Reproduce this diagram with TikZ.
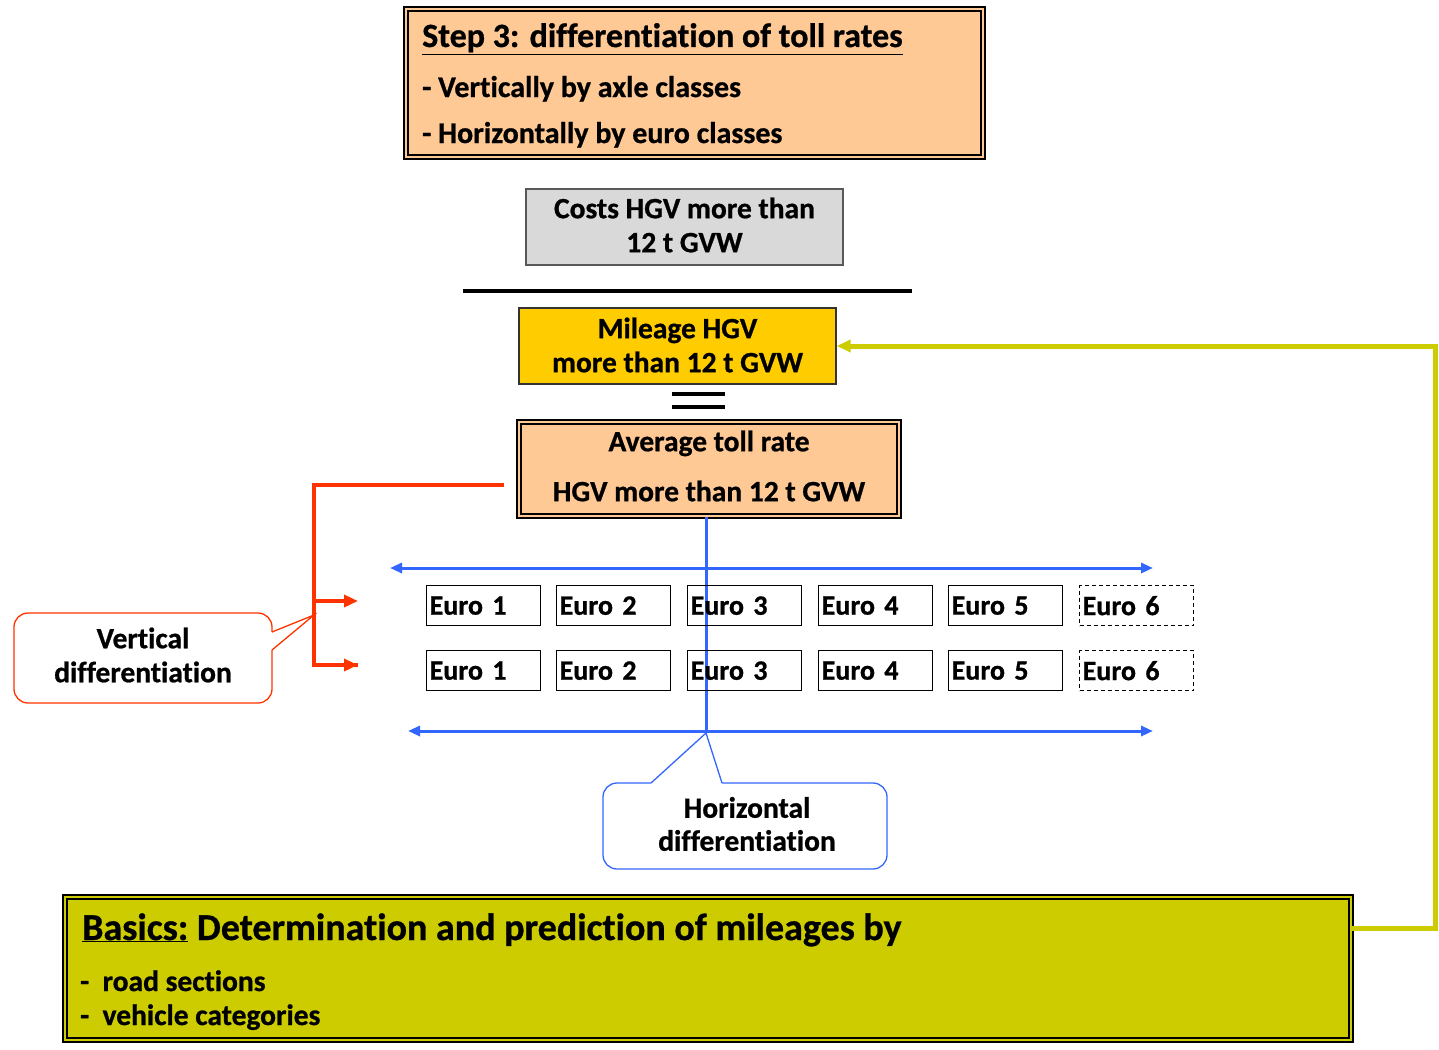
\documentclass[tikz,border=0pt]{standalone}
\usepackage{fontspec}
\setmainfont{Carlito}[BoldFont={Carlito Bold}, BoldFeatures={FakeBold=0.8}, Ligatures={NoCommon}]
\usetikzlibrary{arrows.meta,calc}

\definecolor{peach}{HTML}{FFC996}
\definecolor{gold}{HTML}{FFCC00}
\definecolor{olive}{HTML}{CCCC00}
\definecolor{lgray}{HTML}{D9D9D9}
\definecolor{redline}{HTML}{FF3300}
\definecolor{blueline}{HTML}{3366FF}

\newcommand{\fs}[2]{\fontsize{#1}{#2}\selectfont\bfseries}

\begin{document}
\begin{tikzpicture}[x=1pt,y=-1pt,
  dblbox/.style={draw=black, double=#1, line width=1.6pt, double distance=2.2pt, fill=#1, inner sep=0pt},
  plainbox/.style={draw=#1, line width=1.3pt, inner sep=0pt},
  eurobox/.style={draw=black, line width=1.3pt, minimum width=114pt, minimum height=40pt,
    text width=108pt, inner xsep=3pt, inner ysep=0pt, align=left, anchor=north west,
    font=\fs{28}{30}},
  eurodash/.style={eurobox, dashed, dash pattern=on 4pt off 3pt},
  txt/.style={inner sep=0pt, anchor=base west},
  boxtext/.style={inner sep=0pt, align=center, font=\fs{29.5}{#1}},
  rl/.style={draw=redline, line width=3.4pt},
  bl/.style={draw=blueline, line width=3pt},
  yl/.style={draw=olive, line width=5pt},
  tip/.style={-{Triangle[length=14pt,width=12pt]}},
  dtip/.style={{Triangle[length=12pt,width=10pt]}-{Triangle[length=12pt,width=10pt]}},
]
\useasboundingbox (0,0) rectangle (1439,1049);

% Step 3 header box
\node[dblbox=peach, minimum width=577pt, minimum height=148pt] (step3) at (694.5,83) {};
\node[txt] (s3title) at (422,47) {\fs{34}{38}\underline{Step 3: differentiation of toll rates}};
\node[txt] (s3a) at (422,97) {\fs{30}{34}- Vertically by axle classes};
\node[txt] (s3b) at (422,143) {\fs{30}{34}- Horizontally by euro classes};

% Costs box
\node[plainbox=black!65, fill=lgray, minimum width=317pt, minimum height=76pt] (costs) at (684.5,227) {};
\node[boxtext=34] (costsT) at (684.5,225) {Costs HGV more than\\12 t GVW};

% Fraction bar
\coordinate (barL) at (463,291);
\coordinate (barR) at (912,291);
\draw[line width=4pt] (barL) -- (barR);

% Mileage box
\node[plainbox=black!80, fill=gold, minimum width=317pt, minimum height=76pt] (mileage) at (677.5,346) {};
\node[boxtext=34] (mileageT) at (677.5,345) {Mileage HGV\\more than 12 t GVW};

% Equals sign
\coordinate (eq1L) at (672,394); \coordinate (eq1R) at (725,394);
\coordinate (eq2L) at (672,407); \coordinate (eq2R) at (725,407);
\draw[line width=3.5pt] (eq1L) -- (eq1R);
\draw[line width=3.5pt] (eq2L) -- (eq2R);

% Average toll rate box
\node[dblbox=peach, minimum width=380pt, minimum height=94pt] (avg) at (709,469) {};
\node[boxtext=50] (avgT) at (709,466) {Average toll rate\\HGV more than 12 t GVW};

% Blue horizontal axes and stem
\coordinate (ht1L) at (390,568);  \coordinate (ht1R) at (1153,568);
\coordinate (ht2L) at (408,731);  \coordinate (ht2R) at (1153,731);
\coordinate (stemB) at (706,733);
\draw[bl] (avg.south -| stemB) -- (stemB);
\draw[bl, dtip] (ht1L) -- (ht1R);
\draw[bl, dtip] (ht2L) -- (ht2R);

% Euro class rows
\foreach \r/\y in {1/585, 2/650}{
  \foreach \i/\x in {1/426, 2/556, 3/687, 4/818, 5/948}{
    \node[eurobox] (e\r\i) at (\x,\y) {Euro \i};
  }
  \node[eurodash] (e\r6) at (1079,\y) {Euro 6};
}

% Red vertical bracket
\coordinate (rs) at (504,485);
\coordinate (rc) at (314,485);
\coordinate (ra1) at (358,601);
\coordinate (ra2) at (358,665);
\draw[rl] (rs) -- (rc) |- (ra2);
\draw[rl, tip] (rc |- ra1) -- (ra1);
\draw[rl, tip] (rc |- ra2) -- (ra2);

% Vertical differentiation callout
\node[boxtext=34] (vcall) at (143,655) {Vertical\\differentiation};
\coordinate (vtip) at (314,615);
\draw[draw=redline, line width=1.3pt, rounded corners=14pt]
  (272,650) -- (272,703) -- (14,703) -- (14,613) -- (272,613) [sharp corners] -- (272,632);
\draw[draw=redline, line width=1.3pt] (272,632) -- (vtip) -- (272,650);

% Horizontal differentiation callout
\node[boxtext=33] (hcall) at (747,824) {Horizontal\\differentiation};
\draw[draw=blueline, line width=1.3pt, rounded corners=14pt]
  (722,783) -- (887,783) -- (887,869) -- (603,869) -- (603,783) [sharp corners] -- (651,783);
\draw[draw=blueline, line width=1.3pt] (651,783) -- (stemB) -- (722,783);

% Basics box
\node[dblbox=olive, minimum width=1286pt, minimum height=143pt] (basics) at (708,968.5) {};
\node[txt] (btitle) at (82,940) {\fs{38}{42}\underline{Basics:} Determination and prediction of mileages by};
\node[txt] (b1) at (80,991) {\fs{29.5}{34}-\ \ road sections};
\node[txt] (b2) at (80,1025) {\fs{29.5}{34}-\ \ vehicle categories};

% Feedback connector to mileage
\coordinate (fbR) at (1435,928);
\draw[yl, -{Triangle[length=14pt,width=12pt]}] (basics.east |- fbR) -- (fbR) |- (mileage.east);

\end{tikzpicture}
\end{document}
